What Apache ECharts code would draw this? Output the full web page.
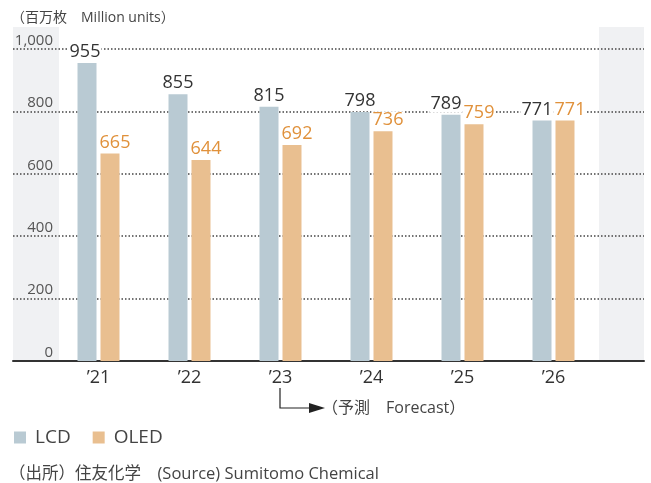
<!DOCTYPE html>
<html>
<head>
<meta charset="utf-8">
<script src="https://cdn.jsdelivr.net/npm/echarts@6/dist/echarts.min.js"></script>
<style>
  html, body { margin: 0; padding: 0; background: #fff; }
  #chart { width: 651px; height: 483px; }
</style>
</head>
<body>
<div id="chart"></div>
<script>
// data
const years = ['’21', '’22', '’23', '’24', '’25', '’26']
const lcd = [955, 855, 815, 798, 789, 771]
const oled = [665, 644, 692, 736, 759, 771]
const yTicks = [0, 200, 400, 600, 800, 1000]

const font = '"Open Sans", "Noto Sans CJK JP", sans-serif'
const lcdColor = '#b9cad3'
const oledColor = '#e9bf90'

// small label nudges (px) so neighbouring values don't collide
const lcdNudge = [-2, 0, 0, 0, -5, -5]
const oledNudge = [5, 5, 5, 5, 5, 5]

const withNudge = (values, nudge) =>
  values.map((v, i) => ({ value: v, label: { offset: [nudge[i], 0] } }))

const chart = echarts.init(document.getElementById('chart'))

const barLabel = color => ({
  show: true,
  position: 'top',
  distance: 2,
  fontSize: 18,
  color: color,
  fontFamily: font,
  backgroundColor: '#fff',
  padding: [0, 1]
})

const option = {
  animation: false,
  textStyle: { fontFamily: font },
  grid: [
    // wide grid: dotted lines and base line run across the grey bands
    { left: 13, right: 7, top: 49, bottom: 122 },
    // bar grid
    { left: 53, right: 52, top: 49, bottom: 122 }
  ],
  legend: {
    data: ['LCD', 'OLED'],
    left: 9,
    top: 423,
    icon: 'rect',
    itemWidth: 12,
    itemHeight: 12,
    itemGap: 22,
    textStyle: { fontSize: 19, color: '#444', fontFamily: font, padding: [0, 0, 0, 4] }
  },
  xAxis: [
    {
      gridIndex: 0,
      type: 'value',
      min: 0,
      max: 1,
      axisLine: { show: true, lineStyle: { color: '#333', width: 2 } },
      axisTick: { show: false },
      axisLabel: { show: false },
      splitLine: { show: false }
    },
    {
      gridIndex: 1,
      type: 'category',
      data: years,
      axisLine: { show: false },
      axisTick: { show: false },
      axisLabel: { fontSize: 18, color: '#333', margin: 8, fontFamily: font }
    }
  ],
  yAxis: [
    {
      gridIndex: 0,
      type: 'value',
      min: yTicks[0],
      max: yTicks[yTicks.length - 1],
      interval: 200,
      axisLine: { show: false },
      axisTick: { show: false },
      splitLine: { lineStyle: { type: [1.5, 2], color: '#444', width: 1.5 } },
      axisLabel: {
        inside: true,
        margin: 40,
        align: 'right',
        verticalAlign: 'bottom',
        padding: [0, 0, 1, 0],
        fontSize: 15,
        color: '#555',
        fontFamily: font,
        formatter: v => v.toLocaleString('en-US')
      }
    },
    {
      gridIndex: 1,
      type: 'value',
      min: 0,
      max: 1000,
      show: false,
      splitLine: { show: false }
    }
  ],
  series: [
    {
      name: 'LCD',
      type: 'bar',
      xAxisIndex: 1,
      yAxisIndex: 1,
      data: withNudge(lcd, lcdNudge),
      barWidth: 19,
      barGap: '21%',
      itemStyle: { color: lcdColor },
      label: barLabel('#333')
    },
    {
      name: 'OLED',
      type: 'bar',
      xAxisIndex: 1,
      yAxisIndex: 1,
      data: withNudge(oled, oledNudge),
      barWidth: 19,
      itemStyle: { color: oledColor },
      label: barLabel('#e0913b')
    }
  ],
  graphic: [
    { type: 'rect', z: -10, shape: { x: 13, y: 27, width: 46, height: 334 }, style: { fill: '#f0f1f3' } },
    { type: 'rect', z: -10, shape: { x: 599, y: 27, width: 45, height: 334 }, style: { fill: '#f0f1f3' } },
    {
      type: 'text', left: 11, top: 11,
      style: { text: '（百万枚　Million units）', font: '14px ' + font, fill: '#444' }
    },
    {
      type: 'polyline',
      shape: { points: [[280, 388], [280, 408], [312, 408]] },
      style: { stroke: '#222', lineWidth: 1.2, fill: null }
    },
    {
      type: 'polygon',
      shape: { points: [[309, 403], [325, 408], [309, 413]] },
      style: { fill: '#222' }
    },
    {
      type: 'text', left: 322, top: 400,
      style: { text: '（予測　Forecast）', font: '16px ' + font, fill: '#444' }
    },
    {
      type: 'text', left: 9, top: 466,
      style: { text: '（出所）住友化学　(Source) Sumitomo Chemical', font: '16.5px ' + font, fill: '#444' }
    }
  ]
}

chart.setOption(option)
</script>
</body>
</html>
